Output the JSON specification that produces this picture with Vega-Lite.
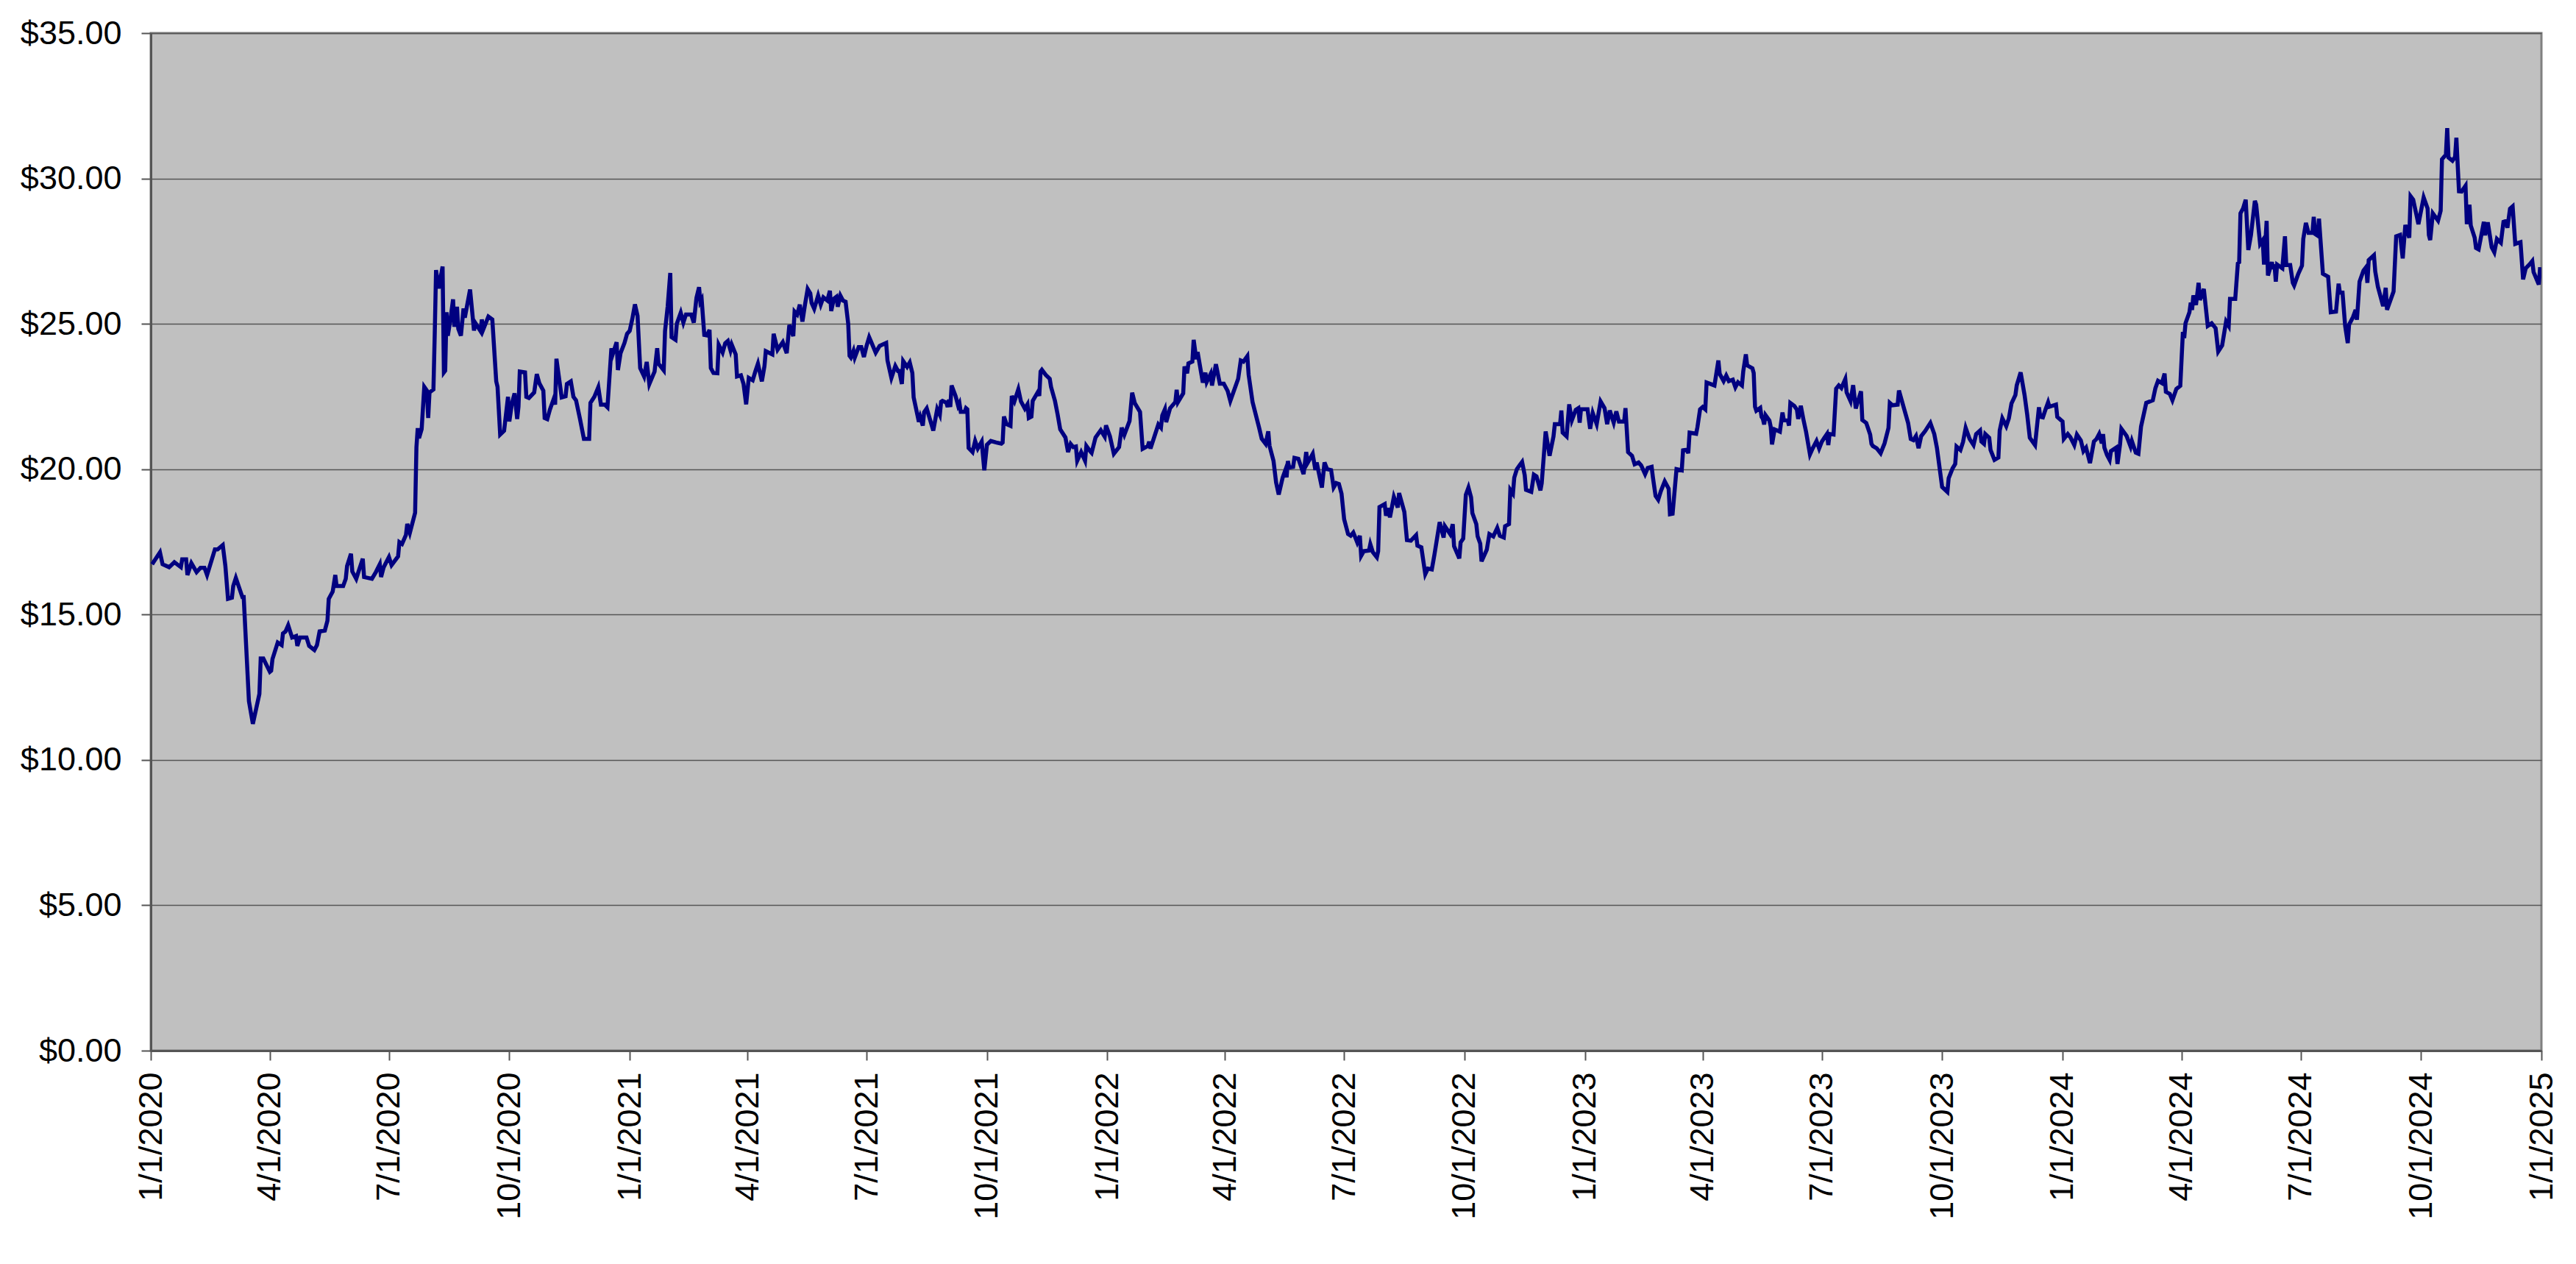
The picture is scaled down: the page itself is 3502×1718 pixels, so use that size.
{
  "$schema": "https://vega.github.io/schema/vega-lite/v6.json",
  "autosize": {"type": "none"},
  "width": 3250,
  "height": 1383,
  "padding": {"left": 205, "top": 45, "right": 47, "bottom": 290},
  "background": "white",
  "data": {
    "values": [
      {"date": "2020-01-02", "price": 16.73}, {"date": "2020-01-08", "price": 17.14}, {"date": "2020-01-10", "price": 16.73},
      {"date": "2020-01-15", "price": 16.63}, {"date": "2020-01-19", "price": 16.80}, {"date": "2020-01-24", "price": 16.63},
      {"date": "2020-01-25", "price": 16.90}, {"date": "2020-01-28", "price": 16.90}, {"date": "2020-01-29", "price": 16.36},
      {"date": "2020-02-01", "price": 16.77}, {"date": "2020-02-05", "price": 16.46}, {"date": "2020-02-08", "price": 16.61},
      {"date": "2020-02-11", "price": 16.61}, {"date": "2020-02-13", "price": 16.36}, {"date": "2020-02-19", "price": 17.24},
      {"date": "2020-02-21", "price": 17.24}, {"date": "2020-02-25", "price": 17.39}, {"date": "2020-02-27", "price": 16.67},
      {"date": "2020-02-29", "price": 15.54}, {"date": "2020-03-03", "price": 15.58}, {"date": "2020-03-04", "price": 15.98},
      {"date": "2020-03-06", "price": 16.26}, {"date": "2020-03-11", "price": 15.60}, {"date": "2020-03-12", "price": 15.60},
      {"date": "2020-03-16", "price": 12.02}, {"date": "2020-03-19", "price": 11.24}, {"date": "2020-03-24", "price": 12.27},
      {"date": "2020-03-25", "price": 13.49}, {"date": "2020-03-27", "price": 13.49}, {"date": "2020-04-01", "price": 13.03},
      {"date": "2020-04-02", "price": 13.07}, {"date": "2020-04-03", "price": 13.47}, {"date": "2020-04-07", "price": 14.04},
      {"date": "2020-04-10", "price": 13.95}, {"date": "2020-04-11", "price": 14.35}, {"date": "2020-04-13", "price": 14.42},
      {"date": "2020-04-15", "price": 14.63}, {"date": "2020-04-18", "price": 14.21}, {"date": "2020-04-21", "price": 14.26},
      {"date": "2020-04-22", "price": 13.92}, {"date": "2020-04-24", "price": 14.21}, {"date": "2020-04-29", "price": 14.21},
      {"date": "2020-05-01", "price": 13.92}, {"date": "2020-05-05", "price": 13.78}, {"date": "2020-05-07", "price": 13.95},
      {"date": "2020-05-09", "price": 14.42}, {"date": "2020-05-13", "price": 14.45}, {"date": "2020-05-15", "price": 14.79},
      {"date": "2020-05-16", "price": 15.54}, {"date": "2020-05-19", "price": 15.79}, {"date": "2020-05-21", "price": 16.36},
      {"date": "2020-05-22", "price": 15.98}, {"date": "2020-05-27", "price": 15.98}, {"date": "2020-05-29", "price": 16.23},
      {"date": "2020-05-30", "price": 16.67}, {"date": "2020-06-02", "price": 17.09}, {"date": "2020-06-03", "price": 16.48},
      {"date": "2020-06-06", "price": 16.23}, {"date": "2020-06-08", "price": 16.51}, {"date": "2020-06-11", "price": 16.92},
      {"date": "2020-06-12", "price": 16.29}, {"date": "2020-06-18", "price": 16.23}, {"date": "2020-06-21", "price": 16.46},
      {"date": "2020-06-24", "price": 16.73}, {"date": "2020-06-25", "price": 16.29}, {"date": "2020-06-27", "price": 16.63},
      {"date": "2020-07-01", "price": 16.98}, {"date": "2020-07-03", "price": 16.70}, {"date": "2020-07-08", "price": 17.00},
      {"date": "2020-07-09", "price": 17.49}, {"date": "2020-07-11", "price": 17.43}, {"date": "2020-07-14", "price": 17.74},
      {"date": "2020-07-15", "price": 18.12}, {"date": "2020-07-17", "price": 17.81}, {"date": "2020-07-21", "price": 18.50},
      {"date": "2020-07-22", "price": 20.75}, {"date": "2020-07-23", "price": 21.41}, {"date": "2020-07-24", "price": 21.07},
      {"date": "2020-07-26", "price": 21.38}, {"date": "2020-07-28", "price": 22.83}, {"date": "2020-07-30", "price": 22.70},
      {"date": "2020-07-31", "price": 21.76}, {"date": "2020-08-01", "price": 22.64}, {"date": "2020-08-04", "price": 22.74},
      {"date": "2020-08-05", "price": 24.65}, {"date": "2020-08-06", "price": 26.85}, {"date": "2020-08-08", "price": 26.22},
      {"date": "2020-08-11", "price": 26.97}, {"date": "2020-08-12", "price": 23.33}, {"date": "2020-08-13", "price": 23.39},
      {"date": "2020-08-14", "price": 25.40}, {"date": "2020-08-15", "price": 24.59}, {"date": "2020-08-17", "price": 25.15},
      {"date": "2020-08-19", "price": 25.84}, {"date": "2020-08-20", "price": 24.90}, {"date": "2020-08-22", "price": 25.59},
      {"date": "2020-08-23", "price": 24.83}, {"date": "2020-08-25", "price": 24.59}, {"date": "2020-08-27", "price": 25.53},
      {"date": "2020-08-28", "price": 25.21}, {"date": "2020-09-01", "price": 26.18}, {"date": "2020-09-04", "price": 24.77},
      {"date": "2020-09-05", "price": 25.03}, {"date": "2020-09-09", "price": 24.75}, {"date": "2020-09-10", "price": 25.15},
      {"date": "2020-09-11", "price": 24.80}, {"date": "2020-09-15", "price": 25.25}, {"date": "2020-09-18", "price": 25.15},
      {"date": "2020-09-21", "price": 23.02}, {"date": "2020-09-22", "price": 22.83}, {"date": "2020-09-24", "price": 21.19},
      {"date": "2020-09-27", "price": 21.32}, {"date": "2020-09-30", "price": 22.49}, {"date": "2020-10-01", "price": 21.64},
      {"date": "2020-10-03", "price": 22.26}, {"date": "2020-10-05", "price": 22.61}, {"date": "2020-10-07", "price": 21.73},
      {"date": "2020-10-08", "price": 22.15}, {"date": "2020-10-09", "price": 23.36}, {"date": "2020-10-13", "price": 23.33},
      {"date": "2020-10-14", "price": 22.49}, {"date": "2020-10-16", "price": 22.45}, {"date": "2020-10-20", "price": 22.64},
      {"date": "2020-10-22", "price": 23.27}, {"date": "2020-10-24", "price": 22.95}, {"date": "2020-10-27", "price": 22.70},
      {"date": "2020-10-28", "price": 21.76}, {"date": "2020-10-30", "price": 21.72}, {"date": "2020-11-01", "price": 22.05},
      {"date": "2020-11-04", "price": 22.43}, {"date": "2020-11-05", "price": 22.22}, {"date": "2020-11-06", "price": 23.80},
      {"date": "2020-11-10", "price": 22.47}, {"date": "2020-11-13", "price": 22.51}, {"date": "2020-11-14", "price": 22.93},
      {"date": "2020-11-17", "price": 23.02}, {"date": "2020-11-19", "price": 22.49}, {"date": "2020-11-21", "price": 22.37},
      {"date": "2020-11-24", "price": 21.73}, {"date": "2020-11-27", "price": 21.04}, {"date": "2020-12-01", "price": 21.04},
      {"date": "2020-12-02", "price": 22.28}, {"date": "2020-12-05", "price": 22.49}, {"date": "2020-12-08", "price": 22.82},
      {"date": "2020-12-10", "price": 22.22}, {"date": "2020-12-13", "price": 22.22}, {"date": "2020-12-15", "price": 22.13},
      {"date": "2020-12-18", "price": 24.16}, {"date": "2020-12-19", "price": 23.95}, {"date": "2020-12-22", "price": 24.37},
      {"date": "2020-12-23", "price": 23.41}, {"date": "2020-12-25", "price": 23.99}, {"date": "2020-12-28", "price": 24.34},
      {"date": "2020-12-30", "price": 24.66}, {"date": "2021-01-01", "price": 24.76}, {"date": "2021-01-03", "price": 25.17},
      {"date": "2021-01-05", "price": 25.67}, {"date": "2021-01-07", "price": 25.27}, {"date": "2021-01-09", "price": 23.48},
      {"date": "2021-01-12", "price": 23.19}, {"date": "2021-01-14", "price": 23.69}, {"date": "2021-01-16", "price": 22.93},
      {"date": "2021-01-20", "price": 23.36}, {"date": "2021-01-22", "price": 24.16}, {"date": "2021-01-23", "price": 23.63},
      {"date": "2021-01-27", "price": 23.40}, {"date": "2021-01-28", "price": 24.75}, {"date": "2021-01-30", "price": 25.59},
      {"date": "2021-02-01", "price": 26.75}, {"date": "2021-02-02", "price": 24.54}, {"date": "2021-02-05", "price": 24.45},
      {"date": "2021-02-06", "price": 25.00}, {"date": "2021-02-09", "price": 25.38}, {"date": "2021-02-11", "price": 25.04},
      {"date": "2021-02-13", "price": 25.32}, {"date": "2021-02-17", "price": 25.32}, {"date": "2021-02-19", "price": 25.04},
      {"date": "2021-02-21", "price": 25.89}, {"date": "2021-02-23", "price": 26.26}, {"date": "2021-02-24", "price": 25.76},
      {"date": "2021-02-25", "price": 25.84}, {"date": "2021-02-27", "price": 24.62}, {"date": "2021-03-01", "price": 24.60},
      {"date": "2021-03-03", "price": 24.79}, {"date": "2021-03-04", "price": 23.48}, {"date": "2021-03-06", "price": 23.31},
      {"date": "2021-03-09", "price": 23.30}, {"date": "2021-03-10", "price": 24.28}, {"date": "2021-03-13", "price": 24.01},
      {"date": "2021-03-15", "price": 24.33}, {"date": "2021-03-17", "price": 24.41}, {"date": "2021-03-19", "price": 24.09},
      {"date": "2021-03-20", "price": 24.28}, {"date": "2021-03-23", "price": 23.95}, {"date": "2021-03-24", "price": 23.19},
      {"date": "2021-03-27", "price": 23.23}, {"date": "2021-03-29", "price": 22.93}, {"date": "2021-03-31", "price": 22.23},
      {"date": "2021-04-02", "price": 23.14}, {"date": "2021-04-05", "price": 23.06}, {"date": "2021-04-07", "price": 23.36},
      {"date": "2021-04-09", "price": 23.63}, {"date": "2021-04-12", "price": 23.02}, {"date": "2021-04-14", "price": 23.55},
      {"date": "2021-04-15", "price": 24.06}, {"date": "2021-04-20", "price": 23.95}, {"date": "2021-04-21", "price": 24.66},
      {"date": "2021-04-24", "price": 24.11}, {"date": "2021-04-28", "price": 24.37}, {"date": "2021-05-01", "price": 23.99},
      {"date": "2021-05-03", "price": 24.96}, {"date": "2021-05-06", "price": 24.58}, {"date": "2021-05-07", "price": 25.42},
      {"date": "2021-05-09", "price": 25.32}, {"date": "2021-05-11", "price": 25.66}, {"date": "2021-05-13", "price": 25.08},
      {"date": "2021-05-15", "price": 25.67}, {"date": "2021-05-17", "price": 26.20}, {"date": "2021-05-19", "price": 26.05},
      {"date": "2021-05-20", "price": 25.72}, {"date": "2021-05-22", "price": 25.52}, {"date": "2021-05-25", "price": 25.97},
      {"date": "2021-05-27", "price": 25.66}, {"date": "2021-05-29", "price": 25.91}, {"date": "2021-06-01", "price": 25.80},
      {"date": "2021-06-03", "price": 26.14}, {"date": "2021-06-04", "price": 25.44}, {"date": "2021-06-06", "price": 25.86},
      {"date": "2021-06-08", "price": 25.93}, {"date": "2021-06-09", "price": 25.59}, {"date": "2021-06-11", "price": 25.97},
      {"date": "2021-06-13", "price": 25.80}, {"date": "2021-06-15", "price": 25.76}, {"date": "2021-06-17", "price": 25.00},
      {"date": "2021-06-18", "price": 23.90}, {"date": "2021-06-19", "price": 23.84}, {"date": "2021-06-21", "price": 24.07},
      {"date": "2021-06-22", "price": 23.84}, {"date": "2021-06-25", "price": 24.20}, {"date": "2021-06-27", "price": 24.20},
      {"date": "2021-06-29", "price": 23.86}, {"date": "2021-07-01", "price": 24.24}, {"date": "2021-07-03", "price": 24.54},
      {"date": "2021-07-05", "price": 24.33}, {"date": "2021-07-08", "price": 24.01}, {"date": "2021-07-11", "price": 24.24},
      {"date": "2021-07-13", "price": 24.28}, {"date": "2021-07-16", "price": 24.34}, {"date": "2021-07-17", "price": 23.74},
      {"date": "2021-07-20", "price": 23.14}, {"date": "2021-07-23", "price": 23.55}, {"date": "2021-07-25", "price": 23.38},
      {"date": "2021-07-26", "price": 23.38}, {"date": "2021-07-28", "price": 22.93}, {"date": "2021-07-29", "price": 23.72},
      {"date": "2021-08-01", "price": 23.52}, {"date": "2021-08-03", "price": 23.67}, {"date": "2021-08-05", "price": 23.31},
      {"date": "2021-08-06", "price": 22.47}, {"date": "2021-08-10", "price": 21.63}, {"date": "2021-08-11", "price": 21.80},
      {"date": "2021-08-13", "price": 21.50}, {"date": "2021-08-14", "price": 21.96}, {"date": "2021-08-16", "price": 22.09},
      {"date": "2021-08-21", "price": 21.33}, {"date": "2021-08-24", "price": 22.07}, {"date": "2021-08-26", "price": 21.87},
      {"date": "2021-08-27", "price": 22.32}, {"date": "2021-08-28", "price": 22.35}, {"date": "2021-08-31", "price": 22.29},
      {"date": "2021-09-01", "price": 22.14}, {"date": "2021-09-02", "price": 22.39}, {"date": "2021-09-03", "price": 22.14},
      {"date": "2021-09-04", "price": 22.88}, {"date": "2021-09-07", "price": 22.52}, {"date": "2021-09-09", "price": 22.18},
      {"date": "2021-09-10", "price": 22.27}, {"date": "2021-09-11", "price": 21.97}, {"date": "2021-09-14", "price": 21.97},
      {"date": "2021-09-15", "price": 22.10}, {"date": "2021-09-16", "price": 22.06}, {"date": "2021-09-17", "price": 20.73},
      {"date": "2021-09-20", "price": 20.59}, {"date": "2021-09-22", "price": 20.97}, {"date": "2021-09-24", "price": 20.71},
      {"date": "2021-09-27", "price": 20.95}, {"date": "2021-09-29", "price": 19.96}, {"date": "2021-10-01", "price": 20.84},
      {"date": "2021-10-04", "price": 20.97}, {"date": "2021-10-08", "price": 20.92}, {"date": "2021-10-12", "price": 20.88},
      {"date": "2021-10-13", "price": 20.92}, {"date": "2021-10-14", "price": 21.81}, {"date": "2021-10-16", "price": 21.55},
      {"date": "2021-10-19", "price": 21.49}, {"date": "2021-10-20", "price": 22.52}, {"date": "2021-10-22", "price": 22.33},
      {"date": "2021-10-25", "price": 22.75}, {"date": "2021-10-27", "price": 22.33}, {"date": "2021-10-30", "price": 22.08},
      {"date": "2021-11-01", "price": 22.23}, {"date": "2021-11-02", "price": 21.76}, {"date": "2021-11-04", "price": 21.81},
      {"date": "2021-11-05", "price": 22.35}, {"date": "2021-11-09", "price": 22.66}, {"date": "2021-11-10", "price": 22.52},
      {"date": "2021-11-11", "price": 23.36}, {"date": "2021-11-12", "price": 23.42}, {"date": "2021-11-15", "price": 23.24},
      {"date": "2021-11-18", "price": 23.11}, {"date": "2021-11-19", "price": 22.83}, {"date": "2021-11-22", "price": 22.35},
      {"date": "2021-11-24", "price": 21.89}, {"date": "2021-11-26", "price": 21.37}, {"date": "2021-11-30", "price": 21.09},
      {"date": "2021-12-02", "price": 20.59}, {"date": "2021-12-04", "price": 20.87}, {"date": "2021-12-06", "price": 20.76},
      {"date": "2021-12-08", "price": 20.78}, {"date": "2021-12-09", "price": 20.29}, {"date": "2021-12-12", "price": 20.59},
      {"date": "2021-12-15", "price": 20.29}, {"date": "2021-12-16", "price": 20.80}, {"date": "2021-12-19", "price": 20.61},
      {"date": "2021-12-20", "price": 20.56}, {"date": "2021-12-23", "price": 21.09}, {"date": "2021-12-27", "price": 21.34},
      {"date": "2021-12-30", "price": 21.12}, {"date": "2021-12-31", "price": 21.51}, {"date": "2022-01-03", "price": 21.13},
      {"date": "2022-01-06", "price": 20.53}, {"date": "2022-01-10", "price": 20.76}, {"date": "2022-01-12", "price": 21.43},
      {"date": "2022-01-14", "price": 21.18}, {"date": "2022-01-18", "price": 21.66}, {"date": "2022-01-20", "price": 22.63},
      {"date": "2022-01-22", "price": 22.27}, {"date": "2022-01-26", "price": 21.97}, {"date": "2022-01-28", "price": 20.70},
      {"date": "2022-02-01", "price": 20.80}, {"date": "2022-02-02", "price": 20.95}, {"date": "2022-02-03", "price": 20.71},
      {"date": "2022-02-09", "price": 21.54}, {"date": "2022-02-11", "price": 21.43}, {"date": "2022-02-12", "price": 21.85},
      {"date": "2022-02-14", "price": 22.06}, {"date": "2022-02-15", "price": 21.62}, {"date": "2022-02-18", "price": 22.10},
      {"date": "2022-02-22", "price": 22.31}, {"date": "2022-02-23", "price": 22.73}, {"date": "2022-02-24", "price": 22.31},
      {"date": "2022-02-28", "price": 22.61}, {"date": "2022-03-01", "price": 23.53}, {"date": "2022-03-03", "price": 23.30},
      {"date": "2022-03-04", "price": 23.64}, {"date": "2022-03-07", "price": 23.70}, {"date": "2022-03-08", "price": 24.45},
      {"date": "2022-03-10", "price": 23.78}, {"date": "2022-03-11", "price": 24.03}, {"date": "2022-03-15", "price": 22.98},
      {"date": "2022-03-17", "price": 23.32}, {"date": "2022-03-18", "price": 23.00}, {"date": "2022-03-21", "price": 23.28},
      {"date": "2022-03-22", "price": 22.88}, {"date": "2022-03-25", "price": 23.61}, {"date": "2022-03-28", "price": 22.94},
      {"date": "2022-03-31", "price": 22.94}, {"date": "2022-04-03", "price": 22.69}, {"date": "2022-04-05", "price": 22.35},
      {"date": "2022-04-11", "price": 23.11}, {"date": "2022-04-13", "price": 23.74}, {"date": "2022-04-15", "price": 23.70},
      {"date": "2022-04-18", "price": 23.89}, {"date": "2022-04-19", "price": 23.25}, {"date": "2022-04-22", "price": 22.31},
      {"date": "2022-04-27", "price": 21.43}, {"date": "2022-04-29", "price": 21.05}, {"date": "2022-05-02", "price": 20.87},
      {"date": "2022-05-04", "price": 21.30}, {"date": "2022-05-05", "price": 20.80}, {"date": "2022-05-08", "price": 20.29},
      {"date": "2022-05-10", "price": 19.54}, {"date": "2022-05-12", "price": 19.13}, {"date": "2022-05-15", "price": 19.71},
      {"date": "2022-05-17", "price": 19.96}, {"date": "2022-05-18", "price": 19.72}, {"date": "2022-05-19", "price": 20.28},
      {"date": "2022-05-20", "price": 20.06}, {"date": "2022-05-23", "price": 20.08}, {"date": "2022-05-24", "price": 20.39},
      {"date": "2022-05-27", "price": 20.36}, {"date": "2022-05-31", "price": 19.83}, {"date": "2022-06-02", "price": 20.59},
      {"date": "2022-06-03", "price": 20.21}, {"date": "2022-06-07", "price": 20.53}, {"date": "2022-06-09", "price": 19.97},
      {"date": "2022-06-10", "price": 20.23}, {"date": "2022-06-14", "price": 19.37}, {"date": "2022-06-16", "price": 20.23},
      {"date": "2022-06-18", "price": 20.00}, {"date": "2022-06-21", "price": 19.97}, {"date": "2022-06-23", "price": 19.37},
      {"date": "2022-06-25", "price": 19.52}, {"date": "2022-06-27", "price": 19.49}, {"date": "2022-06-29", "price": 19.16},
      {"date": "2022-07-01", "price": 18.28}, {"date": "2022-07-03", "price": 17.94}, {"date": "2022-07-04", "price": 17.77},
      {"date": "2022-07-06", "price": 17.71}, {"date": "2022-07-08", "price": 17.82}, {"date": "2022-07-11", "price": 17.48},
      {"date": "2022-07-13", "price": 17.71}, {"date": "2022-07-14", "price": 17.02}, {"date": "2022-07-16", "price": 17.18},
      {"date": "2022-07-20", "price": 17.20}, {"date": "2022-07-21", "price": 17.42}, {"date": "2022-07-23", "price": 17.14},
      {"date": "2022-07-26", "price": 16.97}, {"date": "2022-07-27", "price": 17.18}, {"date": "2022-07-28", "price": 18.70},
      {"date": "2022-08-01", "price": 18.80}, {"date": "2022-08-02", "price": 18.40}, {"date": "2022-08-04", "price": 18.66},
      {"date": "2022-08-05", "price": 18.34}, {"date": "2022-08-08", "price": 19.05}, {"date": "2022-08-11", "price": 18.68},
      {"date": "2022-08-12", "price": 19.18}, {"date": "2022-08-16", "price": 18.53}, {"date": "2022-08-18", "price": 17.56},
      {"date": "2022-08-21", "price": 17.54}, {"date": "2022-08-25", "price": 17.73}, {"date": "2022-08-26", "price": 17.37},
      {"date": "2022-08-29", "price": 17.31}, {"date": "2022-09-01", "price": 16.39}, {"date": "2022-09-03", "price": 16.58},
      {"date": "2022-09-06", "price": 16.55}, {"date": "2022-09-08", "price": 17.06}, {"date": "2022-09-12", "price": 18.18},
      {"date": "2022-09-15", "price": 17.65}, {"date": "2022-09-16", "price": 18.04}, {"date": "2022-09-20", "price": 17.77},
      {"date": "2022-09-22", "price": 18.11}, {"date": "2022-09-23", "price": 17.35}, {"date": "2022-09-27", "price": 16.93},
      {"date": "2022-09-28", "price": 17.48}, {"date": "2022-09-30", "price": 17.61}, {"date": "2022-10-02", "price": 19.12},
      {"date": "2022-10-04", "price": 19.37}, {"date": "2022-10-06", "price": 19.03}, {"date": "2022-10-07", "price": 18.49},
      {"date": "2022-10-10", "price": 18.11}, {"date": "2022-10-11", "price": 17.69}, {"date": "2022-10-13", "price": 17.44},
      {"date": "2022-10-14", "price": 16.83}, {"date": "2022-10-18", "price": 17.23}, {"date": "2022-10-20", "price": 17.77},
      {"date": "2022-10-23", "price": 17.69}, {"date": "2022-10-26", "price": 17.98}, {"date": "2022-10-28", "price": 17.71},
      {"date": "2022-10-31", "price": 17.65}, {"date": "2022-11-01", "price": 18.04}, {"date": "2022-11-04", "price": 18.11},
      {"date": "2022-11-05", "price": 19.29}, {"date": "2022-11-07", "price": 19.16}, {"date": "2022-11-08", "price": 19.71},
      {"date": "2022-11-10", "price": 20.00}, {"date": "2022-11-12", "price": 20.13}, {"date": "2022-11-14", "price": 20.25},
      {"date": "2022-11-16", "price": 19.79}, {"date": "2022-11-17", "price": 19.29}, {"date": "2022-11-21", "price": 19.22},
      {"date": "2022-11-23", "price": 19.81}, {"date": "2022-11-25", "price": 19.75}, {"date": "2022-11-28", "price": 19.27},
      {"date": "2022-11-29", "price": 19.52}, {"date": "2022-12-02", "price": 21.30}, {"date": "2022-12-05", "price": 20.46},
      {"date": "2022-12-08", "price": 21.13}, {"date": "2022-12-09", "price": 21.55}, {"date": "2022-12-13", "price": 21.55},
      {"date": "2022-12-14", "price": 22.02}, {"date": "2022-12-15", "price": 21.26}, {"date": "2022-12-18", "price": 21.13},
      {"date": "2022-12-20", "price": 22.23}, {"date": "2022-12-22", "price": 21.68}, {"date": "2022-12-25", "price": 22.04},
      {"date": "2022-12-27", "price": 22.10}, {"date": "2022-12-28", "price": 21.60}, {"date": "2022-12-29", "price": 22.06},
      {"date": "2023-01-03", "price": 22.06}, {"date": "2023-01-05", "price": 21.39}, {"date": "2023-01-07", "price": 21.93},
      {"date": "2023-01-10", "price": 21.55}, {"date": "2023-01-13", "price": 22.33}, {"date": "2023-01-16", "price": 22.10},
      {"date": "2023-01-18", "price": 21.55}, {"date": "2023-01-20", "price": 22.02}, {"date": "2023-01-23", "price": 21.60},
      {"date": "2023-01-25", "price": 21.99}, {"date": "2023-01-27", "price": 21.64}, {"date": "2023-01-31", "price": 21.64},
      {"date": "2023-02-01", "price": 22.10}, {"date": "2023-02-03", "price": 20.59}, {"date": "2023-02-06", "price": 20.46},
      {"date": "2023-02-08", "price": 20.17}, {"date": "2023-02-11", "price": 20.23}, {"date": "2023-02-13", "price": 20.13},
      {"date": "2023-02-16", "price": 19.83}, {"date": "2023-02-18", "price": 20.04}, {"date": "2023-02-21", "price": 20.08},
      {"date": "2023-02-22", "price": 19.71}, {"date": "2023-02-24", "price": 19.08}, {"date": "2023-02-26", "price": 18.95},
      {"date": "2023-02-28", "price": 19.24}, {"date": "2023-03-03", "price": 19.58}, {"date": "2023-03-06", "price": 19.33},
      {"date": "2023-03-07", "price": 18.45}, {"date": "2023-03-09", "price": 18.47}, {"date": "2023-03-12", "price": 20.00},
      {"date": "2023-03-16", "price": 19.96}, {"date": "2023-03-17", "price": 20.65}, {"date": "2023-03-20", "price": 20.67},
      {"date": "2023-03-21", "price": 20.55}, {"date": "2023-03-22", "price": 21.26}, {"date": "2023-03-27", "price": 21.22},
      {"date": "2023-03-28", "price": 21.45}, {"date": "2023-03-30", "price": 22.06}, {"date": "2023-04-01", "price": 22.14},
      {"date": "2023-04-03", "price": 22.06}, {"date": "2023-04-04", "price": 22.98}, {"date": "2023-04-10", "price": 22.88},
      {"date": "2023-04-13", "price": 23.74}, {"date": "2023-04-14", "price": 23.28}, {"date": "2023-04-17", "price": 23.03},
      {"date": "2023-04-19", "price": 23.22}, {"date": "2023-04-21", "price": 23.03}, {"date": "2023-04-24", "price": 23.08},
      {"date": "2023-04-26", "price": 22.82}, {"date": "2023-04-28", "price": 22.99}, {"date": "2023-05-01", "price": 22.88},
      {"date": "2023-05-02", "price": 23.36}, {"date": "2023-05-04", "price": 23.95}, {"date": "2023-05-05", "price": 23.57},
      {"date": "2023-05-09", "price": 23.47}, {"date": "2023-05-10", "price": 23.31}, {"date": "2023-05-11", "price": 22.15},
      {"date": "2023-05-12", "price": 22.01}, {"date": "2023-05-15", "price": 22.11}, {"date": "2023-05-16", "price": 21.80},
      {"date": "2023-05-17", "price": 21.73}, {"date": "2023-05-18", "price": 21.54}, {"date": "2023-05-19", "price": 21.86},
      {"date": "2023-05-22", "price": 21.67}, {"date": "2023-05-23", "price": 21.46}, {"date": "2023-05-24", "price": 20.85},
      {"date": "2023-05-26", "price": 21.37}, {"date": "2023-05-30", "price": 21.29}, {"date": "2023-06-01", "price": 21.95},
      {"date": "2023-06-02", "price": 21.69}, {"date": "2023-06-05", "price": 21.67}, {"date": "2023-06-06", "price": 21.50},
      {"date": "2023-06-07", "price": 22.28}, {"date": "2023-06-10", "price": 22.18}, {"date": "2023-06-12", "price": 22.05},
      {"date": "2023-06-13", "price": 21.73}, {"date": "2023-06-15", "price": 22.18}, {"date": "2023-06-17", "price": 21.71},
      {"date": "2023-06-19", "price": 21.29}, {"date": "2023-06-22", "price": 20.51}, {"date": "2023-06-24", "price": 20.71},
      {"date": "2023-06-27", "price": 20.97}, {"date": "2023-06-29", "price": 20.71}, {"date": "2023-07-01", "price": 20.94},
      {"date": "2023-07-03", "price": 21.08}, {"date": "2023-07-05", "price": 21.21}, {"date": "2023-07-06", "price": 20.83},
      {"date": "2023-07-07", "price": 21.21}, {"date": "2023-07-10", "price": 21.19}, {"date": "2023-07-12", "price": 22.77},
      {"date": "2023-07-14", "price": 22.88}, {"date": "2023-07-16", "price": 22.79}, {"date": "2023-07-19", "price": 23.10},
      {"date": "2023-07-20", "price": 22.64}, {"date": "2023-07-23", "price": 22.34}, {"date": "2023-07-25", "price": 22.89},
      {"date": "2023-07-27", "price": 22.09}, {"date": "2023-07-31", "price": 22.68}, {"date": "2023-08-01", "price": 21.69},
      {"date": "2023-08-04", "price": 21.59}, {"date": "2023-08-07", "price": 21.19}, {"date": "2023-08-08", "price": 20.87},
      {"date": "2023-08-09", "price": 20.80}, {"date": "2023-08-12", "price": 20.72}, {"date": "2023-08-15", "price": 20.55},
      {"date": "2023-08-18", "price": 20.89}, {"date": "2023-08-21", "price": 21.42}, {"date": "2023-08-22", "price": 22.28},
      {"date": "2023-08-24", "price": 22.20}, {"date": "2023-08-28", "price": 22.22}, {"date": "2023-08-29", "price": 22.71},
      {"date": "2023-09-02", "price": 22.07}, {"date": "2023-09-05", "price": 21.59}, {"date": "2023-09-07", "price": 21.04},
      {"date": "2023-09-09", "price": 21.00}, {"date": "2023-09-11", "price": 21.14}, {"date": "2023-09-13", "price": 20.72},
      {"date": "2023-09-15", "price": 21.14}, {"date": "2023-09-18", "price": 21.31}, {"date": "2023-09-22", "price": 21.59},
      {"date": "2023-09-25", "price": 21.21}, {"date": "2023-09-27", "price": 20.74}, {"date": "2023-10-01", "price": 19.39},
      {"date": "2023-10-05", "price": 19.22}, {"date": "2023-10-06", "price": 19.69}, {"date": "2023-10-09", "price": 20.03},
      {"date": "2023-10-11", "price": 20.18}, {"date": "2023-10-12", "price": 20.78}, {"date": "2023-10-15", "price": 20.66},
      {"date": "2023-10-17", "price": 20.94}, {"date": "2023-10-19", "price": 21.42}, {"date": "2023-10-22", "price": 21.04},
      {"date": "2023-10-25", "price": 20.83}, {"date": "2023-10-27", "price": 21.21}, {"date": "2023-10-30", "price": 21.33},
      {"date": "2023-10-31", "price": 20.95}, {"date": "2023-11-02", "price": 20.87}, {"date": "2023-11-03", "price": 21.21},
      {"date": "2023-11-06", "price": 21.08}, {"date": "2023-11-07", "price": 20.66}, {"date": "2023-11-10", "price": 20.32},
      {"date": "2023-11-13", "price": 20.40}, {"date": "2023-11-14", "price": 21.33}, {"date": "2023-11-16", "price": 21.75},
      {"date": "2023-11-19", "price": 21.48}, {"date": "2023-11-21", "price": 21.75}, {"date": "2023-11-23", "price": 22.26},
      {"date": "2023-11-26", "price": 22.55}, {"date": "2023-11-27", "price": 22.88}, {"date": "2023-11-30", "price": 23.33},
      {"date": "2023-12-03", "price": 22.55}, {"date": "2023-12-05", "price": 21.88}, {"date": "2023-12-07", "price": 21.08},
      {"date": "2023-12-11", "price": 20.83}, {"date": "2023-12-14", "price": 22.13}, {"date": "2023-12-15", "price": 21.80},
      {"date": "2023-12-17", "price": 21.78}, {"date": "2023-12-19", "price": 22.05}, {"date": "2023-12-21", "price": 22.30},
      {"date": "2023-12-22", "price": 22.15}, {"date": "2023-12-27", "price": 22.22}, {"date": "2023-12-28", "price": 21.80},
      {"date": "2024-01-01", "price": 21.64}, {"date": "2024-01-02", "price": 21.04}, {"date": "2024-01-05", "price": 21.21},
      {"date": "2024-01-07", "price": 21.10}, {"date": "2024-01-10", "price": 20.83}, {"date": "2024-01-12", "price": 21.19},
      {"date": "2024-01-15", "price": 20.99}, {"date": "2024-01-17", "price": 20.62}, {"date": "2024-01-19", "price": 20.74},
      {"date": "2024-01-22", "price": 20.21}, {"date": "2024-01-25", "price": 20.95}, {"date": "2024-01-27", "price": 21.04},
      {"date": "2024-01-29", "price": 21.21}, {"date": "2024-01-31", "price": 20.89}, {"date": "2024-02-01", "price": 21.21},
      {"date": "2024-02-02", "price": 20.74}, {"date": "2024-02-04", "price": 20.49}, {"date": "2024-02-06", "price": 20.32},
      {"date": "2024-02-07", "price": 20.62}, {"date": "2024-02-11", "price": 20.74}, {"date": "2024-02-12", "price": 20.18},
      {"date": "2024-02-14", "price": 20.87}, {"date": "2024-02-15", "price": 21.39}, {"date": "2024-02-19", "price": 21.14},
      {"date": "2024-02-22", "price": 20.78}, {"date": "2024-02-23", "price": 20.97}, {"date": "2024-02-26", "price": 20.57},
      {"date": "2024-02-28", "price": 20.53}, {"date": "2024-03-01", "price": 21.46}, {"date": "2024-03-05", "price": 22.28},
      {"date": "2024-03-10", "price": 22.37}, {"date": "2024-03-12", "price": 22.79}, {"date": "2024-03-14", "price": 23.04},
      {"date": "2024-03-17", "price": 22.96}, {"date": "2024-03-19", "price": 23.29}, {"date": "2024-03-20", "price": 22.66},
      {"date": "2024-03-23", "price": 22.59}, {"date": "2024-03-25", "price": 22.37}, {"date": "2024-03-28", "price": 22.76},
      {"date": "2024-03-31", "price": 22.87}, {"date": "2024-04-02", "price": 24.72}, {"date": "2024-04-03", "price": 24.51},
      {"date": "2024-04-04", "price": 25.02}, {"date": "2024-04-07", "price": 25.40}, {"date": "2024-04-08", "price": 25.73},
      {"date": "2024-04-09", "price": 25.48}, {"date": "2024-04-10", "price": 25.98}, {"date": "2024-04-12", "price": 25.65},
      {"date": "2024-04-14", "price": 26.41}, {"date": "2024-04-15", "price": 25.82}, {"date": "2024-04-18", "price": 26.20},
      {"date": "2024-04-21", "price": 24.93}, {"date": "2024-04-24", "price": 25.02}, {"date": "2024-04-27", "price": 24.85},
      {"date": "2024-04-29", "price": 24.05}, {"date": "2024-05-02", "price": 24.26}, {"date": "2024-05-05", "price": 25.08},
      {"date": "2024-05-07", "price": 24.93}, {"date": "2024-05-08", "price": 25.86}, {"date": "2024-05-12", "price": 25.86},
      {"date": "2024-05-14", "price": 27.08}, {"date": "2024-05-15", "price": 27.12}, {"date": "2024-05-16", "price": 28.80},
      {"date": "2024-05-18", "price": 28.97}, {"date": "2024-05-20", "price": 29.27}, {"date": "2024-05-22", "price": 27.54},
      {"date": "2024-05-24", "price": 28.05}, {"date": "2024-05-27", "price": 29.23}, {"date": "2024-05-28", "price": 29.10},
      {"date": "2024-05-31", "price": 27.75}, {"date": "2024-06-02", "price": 27.88}, {"date": "2024-06-03", "price": 27.04},
      {"date": "2024-06-05", "price": 28.54}, {"date": "2024-06-06", "price": 26.66}, {"date": "2024-06-09", "price": 27.12},
      {"date": "2024-06-10", "price": 26.89}, {"date": "2024-06-11", "price": 27.04}, {"date": "2024-06-12", "price": 26.45},
      {"date": "2024-06-13", "price": 27.04}, {"date": "2024-06-17", "price": 26.91}, {"date": "2024-06-19", "price": 28.01},
      {"date": "2024-06-20", "price": 27.02}, {"date": "2024-06-23", "price": 27.02}, {"date": "2024-06-25", "price": 26.41},
      {"date": "2024-06-26", "price": 26.32}, {"date": "2024-06-29", "price": 26.70}, {"date": "2024-07-02", "price": 27.00},
      {"date": "2024-07-03", "price": 27.92}, {"date": "2024-07-05", "price": 28.47}, {"date": "2024-07-07", "price": 28.13},
      {"date": "2024-07-10", "price": 28.13}, {"date": "2024-07-11", "price": 28.68}, {"date": "2024-07-12", "price": 28.09},
      {"date": "2024-07-14", "price": 28.03}, {"date": "2024-07-15", "price": 28.62}, {"date": "2024-07-18", "price": 26.72},
      {"date": "2024-07-22", "price": 26.62}, {"date": "2024-07-24", "price": 25.40}, {"date": "2024-07-28", "price": 25.42},
      {"date": "2024-07-30", "price": 26.38}, {"date": "2024-07-31", "price": 26.07}, {"date": "2024-08-02", "price": 26.07},
      {"date": "2024-08-04", "price": 24.93}, {"date": "2024-08-06", "price": 24.34}, {"date": "2024-08-07", "price": 24.97},
      {"date": "2024-08-10", "price": 25.23}, {"date": "2024-08-12", "price": 25.48}, {"date": "2024-08-13", "price": 25.14},
      {"date": "2024-08-15", "price": 26.45}, {"date": "2024-08-18", "price": 26.83}, {"date": "2024-08-20", "price": 26.95},
      {"date": "2024-08-21", "price": 26.41}, {"date": "2024-08-22", "price": 27.19}, {"date": "2024-08-26", "price": 27.36},
      {"date": "2024-08-27", "price": 26.80}, {"date": "2024-08-29", "price": 26.28}, {"date": "2024-09-02", "price": 25.61},
      {"date": "2024-09-04", "price": 26.24}, {"date": "2024-09-05", "price": 25.48}, {"date": "2024-09-10", "price": 26.11},
      {"date": "2024-09-12", "price": 28.01}, {"date": "2024-09-15", "price": 28.06}, {"date": "2024-09-17", "price": 27.25},
      {"date": "2024-09-19", "price": 28.40}, {"date": "2024-09-22", "price": 27.96}, {"date": "2024-09-23", "price": 29.39},
      {"date": "2024-09-25", "price": 29.27}, {"date": "2024-09-27", "price": 28.85}, {"date": "2024-09-29", "price": 28.43},
      {"date": "2024-10-03", "price": 29.35}, {"date": "2024-10-06", "price": 28.97}, {"date": "2024-10-07", "price": 28.05},
      {"date": "2024-10-08", "price": 27.88}, {"date": "2024-10-10", "price": 28.80}, {"date": "2024-10-14", "price": 28.55},
      {"date": "2024-10-16", "price": 28.89}, {"date": "2024-10-17", "price": 30.66}, {"date": "2024-10-20", "price": 30.82},
      {"date": "2024-10-21", "price": 31.73}, {"date": "2024-10-22", "price": 30.72}, {"date": "2024-10-25", "price": 30.61},
      {"date": "2024-10-27", "price": 30.74}, {"date": "2024-10-28", "price": 31.40}, {"date": "2024-10-30", "price": 29.56},
      {"date": "2024-11-01", "price": 29.55}, {"date": "2024-11-04", "price": 29.75}, {"date": "2024-11-05", "price": 28.43},
      {"date": "2024-11-07", "price": 29.10}, {"date": "2024-11-08", "price": 28.38}, {"date": "2024-11-11", "price": 27.96},
      {"date": "2024-11-12", "price": 27.61}, {"date": "2024-11-14", "price": 27.56}, {"date": "2024-11-18", "price": 28.51},
      {"date": "2024-11-19", "price": 28.05}, {"date": "2024-11-21", "price": 28.49}, {"date": "2024-11-24", "price": 27.63},
      {"date": "2024-11-26", "price": 27.46}, {"date": "2024-11-28", "price": 27.92}, {"date": "2024-12-01", "price": 27.79},
      {"date": "2024-12-03", "price": 28.51}, {"date": "2024-12-05", "price": 28.54}, {"date": "2024-12-06", "price": 28.30},
      {"date": "2024-12-08", "price": 28.96}, {"date": "2024-12-10", "price": 29.04}, {"date": "2024-12-12", "price": 27.75},
      {"date": "2024-12-16", "price": 27.81}, {"date": "2024-12-18", "price": 26.53}, {"date": "2024-12-20", "price": 26.91},
      {"date": "2024-12-23", "price": 27.05}, {"date": "2024-12-25", "price": 27.16}, {"date": "2024-12-26", "price": 26.78},
      {"date": "2024-12-30", "price": 26.35}, {"date": "2024-12-31", "price": 26.95}
    ]
  },
  "mark": {"type": "line", "color": "#000080", "strokeWidth": 5.5, "clip": true},
  "encoding": {
    "x": {
      "field": "date",
      "type": "temporal",
      "title": null,
      "scale": {
        "type": "utc",
        "domain": [
          {"year": 2020, "month": 1, "date": 1, "utc": true},
          {"year": 2025, "month": 1, "date": 1, "utc": true}
        ]
      },
      "axis": {
        "labelExpr": "utcFormat(datum.value, '%-m/%-d/%Y')",
        "labelAngle": -90,
        "labelAlign": "right",
        "labelBaseline": "middle",
        "labelPadding": 16,
        "labelLimit": 0,
        "grid": false,
        "values": [
          {"year": 2020, "month": 1, "date": 1, "utc": true}, {"year": 2020, "month": 4, "date": 1, "utc": true},
          {"year": 2020, "month": 7, "date": 1, "utc": true}, {"year": 2020, "month": 10, "date": 1, "utc": true},
          {"year": 2021, "month": 1, "date": 1, "utc": true}, {"year": 2021, "month": 4, "date": 1, "utc": true},
          {"year": 2021, "month": 7, "date": 1, "utc": true}, {"year": 2021, "month": 10, "date": 1, "utc": true},
          {"year": 2022, "month": 1, "date": 1, "utc": true}, {"year": 2022, "month": 4, "date": 1, "utc": true},
          {"year": 2022, "month": 7, "date": 1, "utc": true}, {"year": 2022, "month": 10, "date": 1, "utc": true},
          {"year": 2023, "month": 1, "date": 1, "utc": true}, {"year": 2023, "month": 4, "date": 1, "utc": true},
          {"year": 2023, "month": 7, "date": 1, "utc": true}, {"year": 2023, "month": 10, "date": 1, "utc": true},
          {"year": 2024, "month": 1, "date": 1, "utc": true}, {"year": 2024, "month": 4, "date": 1, "utc": true},
          {"year": 2024, "month": 7, "date": 1, "utc": true}, {"year": 2024, "month": 10, "date": 1, "utc": true},
          {"year": 2025, "month": 1, "date": 1, "utc": true}
        ]
      }
    },
    "y": {
      "field": "price",
      "type": "quantitative",
      "title": null,
      "scale": {"domain": [0, 35], "nice": false, "zero": true},
      "axis": {
        "values": [0, 5, 10, 15, 20, 25, 30, 35],
        "format": "$.2f",
        "labelPadding": 27,
        "labelLimit": 0,
        "grid": true,
        "gridColor": "#555555",
        "gridWidth": 1.6
      }
    }
  },
  "config": {
    "font": "Liberation Sans",
    "view": {"fill": "#C0C0C0", "stroke": "#808080", "strokeWidth": 3},
    "axis": {
      "labelFont": "Liberation Sans",
      "labelFontSize": 45,
      "labelColor": "#000000",
      "labelOverlap": false,
      "labelFlush": false,
      "domainColor": "#555555",
      "domainWidth": 3,
      "tickColor": "#555555",
      "tickWidth": 2,
      "tickSize": 13
    }
  }
}
